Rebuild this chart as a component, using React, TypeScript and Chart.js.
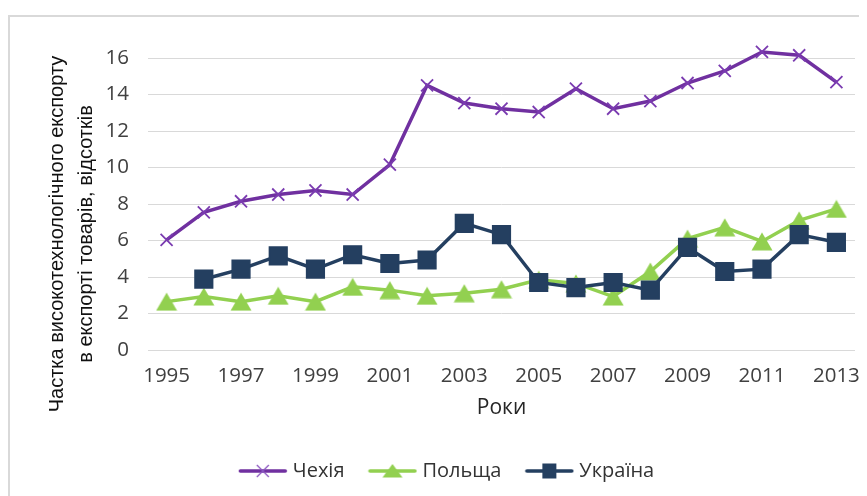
import React, { useEffect, useRef } from 'react';
import { Chart, registerables } from 'chart.js';

Chart.register(...registerables);

const years = ['1995', '1996', '1997', '1998', '1999', '2000', '2001', '2002', '2003', '2004', '2005', '2006', '2007', '2008', '2009', '2010', '2011', '2012', '2013'];
const czech = [6.03, 7.54, 8.15, 8.52, 8.74, 8.52, 10.16, 14.5, 13.53, 13.22, 13.04, 14.32, 13.22, 13.64, 14.63, 15.29, 16.33, 16.15, 14.68];
const poland = [2.65, 2.93, 2.65, 2.97, 2.65, 3.46, 3.28, 2.97, 3.11, 3.33, 3.85, 3.65, 2.93, 4.3, 6.1, 6.72, 5.95, 7.1, 7.73];
const ukraine = [null, 3.88, 4.43, 5.16, 4.43, 5.22, 4.74, 4.93, 6.94, 6.32, 3.7, 3.42, 3.7, 3.28, 5.62, 4.3, 4.43, 6.32, 5.9];
const seriesNames = ['Чехія', 'Польща', 'Україна'];
const yTitleLines = ['Частка високотехнологічного експорту', 'в експорті товарів, відсотків'];
const xTitle = 'Роки';

const PURPLE = '#7030A0';
const GREEN = '#92D050';
const NAVY = '#243F60';

function triangleImage(color: string, w: number, h: number) {
  const c = document.createElement('canvas');
  c.width = w;
  c.height = h;
  const ctx = c.getContext('2d')!;
  ctx.fillStyle = color;
  ctx.beginPath();
  ctx.moveTo(w / 2, 0.5);
  ctx.lineTo(w - 0.5, h - 0.5);
  ctx.lineTo(0.5, h - 0.5);
  ctx.closePath();
  ctx.fill();
  return c;
}

function legendImage(color: string, kind: string) {
  const c = document.createElement('canvas');
  c.width = 50;
  c.height = 22;
  const ctx = c.getContext('2d')!;
  const cy = 11;
  const cx = 25;
  ctx.strokeStyle = color;
  ctx.lineWidth = 3.5;
  ctx.lineCap = 'round';
  ctx.beginPath();
  ctx.moveTo(2.5, cy);
  ctx.lineTo(47.5, cy);
  ctx.stroke();
  ctx.fillStyle = color;
  if (kind === 'cross') {
    ctx.lineWidth = 1.3;
    ctx.strokeStyle = '#8A55C0';
    ctx.lineCap = 'butt';
    ctx.beginPath();
    ctx.moveTo(cx - 6, cy - 6);
    ctx.lineTo(cx + 6, cy + 6);
    ctx.moveTo(cx + 6, cy - 6);
    ctx.lineTo(cx - 6, cy + 6);
    ctx.stroke();
  } else if (kind === 'triangle') {
    ctx.beginPath();
    ctx.moveTo(cx, cy - 7);
    ctx.lineTo(cx + 10, cy + 6.5);
    ctx.lineTo(cx - 10, cy + 6.5);
    ctx.closePath();
    ctx.fill();
  } else {
    ctx.fillRect(cx - 7, cy - 7.5, 14, 15);
  }
  return c;
}

const yTitlePlugin = {
  id: 'yTitlePlugin',
  afterDraw(chart: any) {
    const ctx = chart.ctx;
    ctx.save();
    ctx.font = '20px "Liberation Sans", Arial, sans-serif';
    ctx.fillStyle = '#111111';
    ctx.textAlign = 'center';
    ctx.textBaseline = 'alphabetic';
    ctx.translate(53, 217);
    ctx.rotate(-Math.PI / 2);
    ctx.fillText(yTitleLines[0], 0, 0);
    ctx.fillText(yTitleLines[1], 0, 29);
    ctx.restore();
  },
};

export default function App() {
  const ref = useRef<HTMLCanvasElement | null>(null);

  useEffect(() => {
    if (!ref.current) return;
    const triImg = triangleImage(GREEN, 22, 19);
    const legendImgs = [legendImage(PURPLE, 'cross'), legendImage(GREEN, 'triangle'), legendImage(NAVY, 'square')];
    const tickFont = { family: '"Open Sans", sans-serif', size: 20.5 };
    const chart = new Chart(ref.current, {
      type: 'line',
      data: {
        labels: years,
        datasets: [
          {
            label: seriesNames[0],
            data: czech,
            borderColor: PURPLE,
            backgroundColor: PURPLE,
            borderWidth: 3.5,
            pointStyle: 'crossRot',
            pointRadius: 8.5,
            pointBorderWidth: 1.8,
            pointBorderColor: '#7A3BB0',
            tension: 0,
            clip: false,
            order: 3,
          },
          {
            label: seriesNames[1],
            data: poland,
            borderColor: GREEN,
            backgroundColor: GREEN,
            borderWidth: 3.5,
            pointStyle: triImg as any,
            pointRadius: 11,
            tension: 0,
            clip: false,
            order: 2,
          },
          {
            label: seriesNames[2],
            data: ukraine,
            borderColor: NAVY,
            backgroundColor: NAVY,
            borderWidth: 3.5,
            pointStyle: 'rect',
            pointRadius: 12.5,
            pointBorderWidth: 1.5,
            pointBorderColor: NAVY,
            pointBackgroundColor: NAVY,
            tension: 0,
            clip: false,
            order: 1,
          },
        ] as any,
      },
      options: {
        animation: false,
        responsive: false,
        maintainAspectRatio: false,
        layout: { padding: { left: 0, right: 0, top: 41, bottom: 17 } },
        plugins: {
          tooltip: { enabled: false },
          title: { display: false },
          legend: {
            position: 'bottom',
            labels: {
              usePointStyle: true,
              pointStyleWidth: 40,
              padding: 28,
              font: { family: '"Open Sans", sans-serif', size: 20 },
              color: '#333333',
              generateLabels: (c: any) =>
                c.data.datasets.map((ds: any, i: number) => ({
                  text: ds.label,
                  pointStyle: legendImgs[i],
                  datasetIndex: i,
                  fillStyle: ds.borderColor,
                  strokeStyle: ds.borderColor,
                  lineWidth: 0,
                  hidden: false,
                  fontColor: '#333333',
                })),
            },
          },
        },
        scales: {
          x: {
            offset: true,
            grid: { display: false, drawTicks: false, offset: true },
            border: { display: false },
            ticks: {
              autoSkip: false,
              maxRotation: 0,
              minRotation: 0,
              padding: 14,
              color: '#404040',
              font: tickFont,
              callback: (_v: any, i: number) => (i % 2 === 0 ? years[i] : ''),
            },
            title: {
              display: true,
              text: xTitle,
              color: '#262626',
              font: { family: '"Open Sans", sans-serif', size: 21 },
              padding: { top: 9, bottom: 12 },
            },
            afterFit: (scale: any) => {
              scale.height = 83;
            },
          },
          y: {
            min: 0,
            max: 16,
            grid: { color: '#D9D9D9', lineWidth: 1, drawTicks: false },
            border: { display: false },
            ticks: {
              stepSize: 2,
              padding: 19,
              color: '#404040',
              font: tickFont,
            },
            afterFit: (scale: any) => {
              scale.width = 138;
            },
          },
          yRight: {
            position: 'right',
            display: true,
            grid: { display: false, drawTicks: false },
            border: { display: false },
            ticks: { display: false },
            afterFit: (scale: any) => {
              scale.width = 32;
            },
          },
        },
      },
      plugins: [yTitlePlugin],
    });
    return () => chart.destroy();
  }, []);

  return (
    <div style={{ position: 'relative', width: 859, height: 488, overflow: 'hidden' }}>
      <div
        style={{
          position: 'absolute',
          left: 0,
          top: 7,
          width: 900,
          height: 520,
          border: '2px solid #D9D9D9',
          boxSizing: 'border-box',
          background: '#ffffff',
        }}
      >
        <canvas ref={ref} width={877} height={491} style={{ display: 'block', width: 877, height: 491 }} />
      </div>
    </div>
  );
}
